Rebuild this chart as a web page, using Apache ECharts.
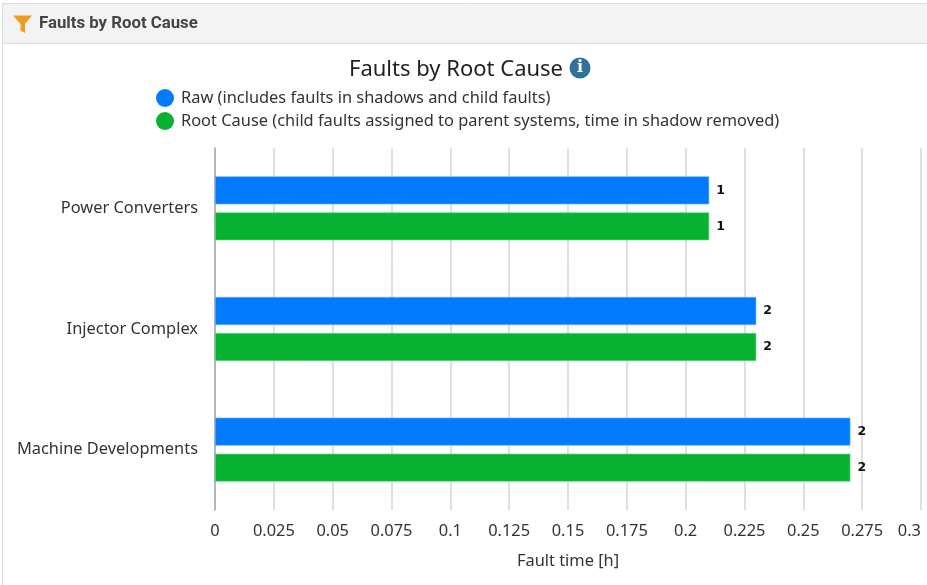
<!DOCTYPE html>
<html>
<head>
<meta charset="utf-8">
<style>html,body{margin:0;padding:0;background:#fff}#chart{width:927px;height:585px}</style>
<script src="https://cdn.jsdelivr.net/npm/echarts@6/dist/echarts.min.js"></script>
</head>
<body>
<div id="chart"></div>
<script>
// Fault time per system, with the number of faults printed beside each bar.
const categories = ['Power Converters', 'Injector Complex', 'Machine Developments'];
const rawHours = [0.21, 0.23, 0.27];
const rootCauseHours = [0.21, 0.23, 0.27];
const rawCounts = [1, 2, 2];
const rootCauseCounts = [1, 2, 2];
const panelTitle = 'Faults by Root Cause';
const chartTitle = 'Faults by Root Cause';
const rawName = 'Raw (includes faults in shadows and child faults)';
const rootCauseName = 'Root Cause (child faults assigned to parent systems, time in shadow removed)';
const axisTitle = 'Fault time [h]';

const FONT = '"Noto Sans", sans-serif';
const INK = '#333';
const TEXT_SIZE = 16.4;

function countLabel(counts) {
  return {
    show: true,
    position: 'right',
    distance: 7,
    fontFamily: '"DejaVu Sans", sans-serif',
    fontWeight: 'bold',
    fontSize: 12.5,
    color: '#111',
    formatter: p => String(counts[p.dataIndex])
  };
}

function barSeries(name, values, counts, color, edge) {
  return {
    name,
    type: 'bar',
    data: values,
    barWidth: 28,
    barGap: '28.6%',
    itemStyle: { color, borderColor: edge, borderWidth: 0.6 },
    label: countLabel(counts),
    emphasis: { disabled: true }
  };
}

const chart = echarts.init(document.getElementById('chart'), null, { renderer: 'canvas' });
chart.setOption({
  animation: false,
  backgroundColor: '#fff',
  title: {
    text: chartTitle,
    left: 349,
    top: 59,
    textStyle: { fontFamily: FONT, fontSize: 22, fontWeight: 'normal', color: '#222' },
    padding: 0
  },
  legend: {
    orient: 'vertical',
    left: 156,
    top: 89,
    padding: 0,
    itemWidth: 18,
    itemHeight: 18,
    itemGap: 5,
    icon: 'circle',
    selectedMode: false,
    itemStyle: { borderWidth: 0 },
    textStyle: { fontFamily: FONT, fontSize: TEXT_SIZE, color: INK, padding: [0, 0, 0, 2] }
  },
  grid: { left: 215, right: 6, top: 148, bottom: 75, containLabel: false },
  xAxis: {
    type: 'value',
    min: 0,
    max: 0.3,
    interval: 0.025,
    name: axisTitle,
    nameLocation: 'middle',
    nameGap: 43,
    nameTextStyle: { fontFamily: FONT, fontSize: TEXT_SIZE, color: INK },
    axisLine: { show: false },
    axisTick: { show: false },
    axisLabel: {
      fontFamily: FONT,
      fontSize: TEXT_SIZE,
      color: INK,
      margin: 13,
      alignMaxLabel: 'right'
    },
    splitLine: { show: true, lineStyle: { color: '#d4d4d4', width: 1.5 } }
  },
  yAxis: {
    type: 'category',
    data: categories,
    inverse: true,
    axisLine: { show: true, lineStyle: { color: '#a8a8a8', width: 1.5 } },
    axisTick: { show: false },
    axisLabel: { fontFamily: FONT, fontSize: TEXT_SIZE, color: INK, margin: 17 },
    splitLine: { show: false }
  },
  series: [
    barSeries(rawName, rawHours, rawCounts, '#007bff', '#6db3ff'),
    barSeries(rootCauseName, rootCauseHours, rootCauseCounts, '#07b233', '#6fd68a')
  ],
  graphic: [
    // Panel header strip and the frame around the widget
    { type: 'rect', z: -1, silent: true, shape: { x: 2.5, y: 3.5, width: 930, height: 40 },
      style: { fill: '#f3f3f3', stroke: '#dcdcdc', lineWidth: 1 } },
    { type: 'line', z: -1, silent: true, shape: { x1: 2.5, y1: 43, x2: 2.5, y2: 585 },
      style: { stroke: '#dcdcdc', lineWidth: 1 } },
    // Funnel icon
    { type: 'polygon', silent: true,
      shape: { points: [[13, 15.5], [32, 15.5], [25, 24], [25, 33], [20.5, 30.5], [20.5, 24]] },
      style: { fill: '#f29c1f' } },
    { type: 'text', silent: true, x: 39, y: 23.5,
      style: { text: panelTitle, fontFamily: 'Roboto, sans-serif', fontWeight: 'bold', fontSize: 16.8,
               fill: '#444', verticalAlign: 'middle' } },
    // Info badge next to the chart title
    { type: 'circle', silent: true, shape: { cx: 580, cy: 68, r: 10.5 }, style: { fill: '#31729b' } },
    { type: 'text', silent: true, x: 580, y: 68,
      style: { text: 'i', fontFamily: '"DejaVu Serif", serif', fontWeight: 'bold', fontSize: 16,
               fill: '#fff', align: 'center', verticalAlign: 'middle' } }
  ]
});
</script>
</body>
</html>
